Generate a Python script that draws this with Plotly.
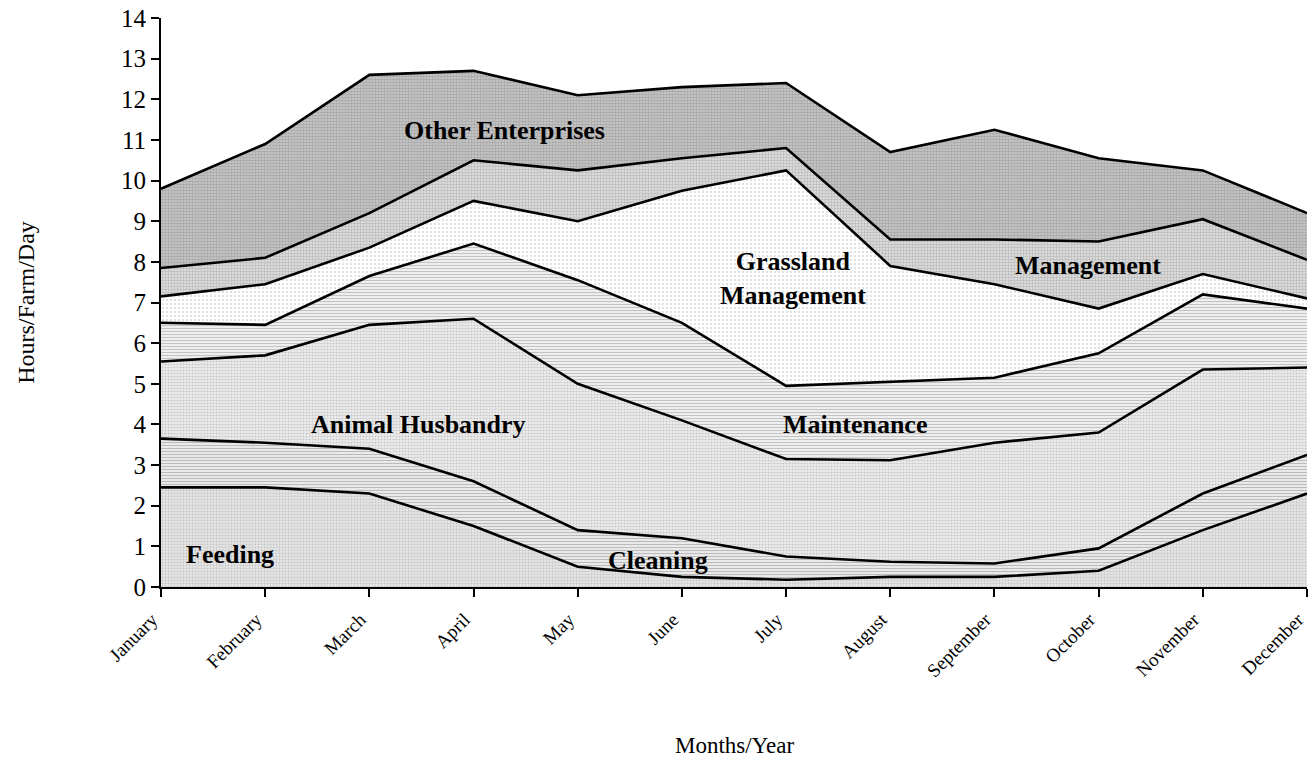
import plotly.graph_objects as go

months = ["January", "February", "March", "April", "May", "June", "July",
          "August", "September", "October", "November", "December"]

feeding = [2.45, 2.45, 2.30, 1.50, 0.50, 0.25, 0.18, 0.25, 0.25, 0.40, 1.40, 2.30]
cleaning = [1.20, 1.10, 1.10, 1.10, 0.90, 0.95, 0.57, 0.37, 0.33, 0.55, 0.90, 0.95]
animal_husbandry = [1.90, 2.15, 3.05, 4.00, 3.60, 2.90, 2.40, 2.50, 2.97, 2.85, 3.05, 2.15]
maintenance = [0.95, 0.75, 1.20, 1.85, 2.55, 2.40, 1.80, 1.93, 1.60, 1.95, 1.85, 1.45]
grassland_management = [0.65, 1.00, 0.70, 1.05, 1.45, 3.25, 5.30, 2.85, 2.30, 1.10, 0.50, 0.25]
management = [0.70, 0.65, 0.85, 1.00, 1.25, 0.80, 0.55, 0.65, 1.10, 1.65, 1.35, 0.95]
other_enterprises = [1.95, 2.80, 3.40, 2.20, 1.85, 1.75, 1.60, 2.15, 2.70, 2.05, 1.20, 1.15]

series = [
    ("Feeding", feeding, dict(shape=".", size=3, solidity=0.45, fgcolor="#a8a8a8", bgcolor="#eaeaea")),
    ("Cleaning", cleaning, dict(shape="-", size=3, solidity=0.4, fgcolor="#888888", bgcolor="#eeeeee")),
    ("Animal Husbandry", animal_husbandry, dict(shape=".", size=3, solidity=0.4, fgcolor="#a0a0a0", bgcolor="#eeeeee")),
    ("Maintenance", maintenance, dict(shape="-", size=3, solidity=0.38, fgcolor="#939393", bgcolor="#f2f2f2")),
    ("Grassland Management", grassland_management, dict(shape=".", size=4, solidity=0.2, fgcolor="#b0b0b0", bgcolor="#ffffff")),
    ("Management", management, dict(shape=".", size=3, solidity=0.5, fgcolor="#939393", bgcolor="#e2e2e2")),
    ("Other Enterprises", other_enterprises, dict(shape=".", size=3, solidity=0.6, fgcolor="#848484", bgcolor="#cdcdcd")),
]

labels = [
    ("Other Enterprises", 3.3, 11.23),
    ("Grassland<br>Management", 6.07, 7.6),
    ("Management", 8.9, 7.9),
    ("Animal Husbandry", 2.47, 3.99),
    ("Maintenance", 6.66, 4.01),
    ("Feeding", 0.66, 0.79),
    ("Cleaning", 4.77, 0.66),
]

x_title = "Months/Year"
y_title = "Hours/Farm/Day"

serif = "Liberation Serif, Times New Roman, serif"

fig = go.Figure()
for name, vals, pat in series:
    fig.add_trace(go.Scatter(
        x=months, y=vals, name=name, mode="lines", stackgroup="one",
        line=dict(color="black", width=2.6),
        fillcolor=pat["bgcolor"], fillpattern=pat,
        hoverinfo="x+y+name",
    ))

for text, x, y in labels:
    fig.add_annotation(x=x, y=y, xref="x", yref="y", text="<b>%s</b>" % text,
                       showarrow=False, font=dict(family=serif, size=26, color="black"))

# x-axis title placed below the rotated month labels
fig.add_annotation(x=0.5, y=-0.278, xref="paper", yref="paper", text=x_title,
                   showarrow=False, xanchor="center", yanchor="middle",
                   font=dict(family=serif, size=23, color="black"))

fig.update_layout(
    width=1309, height=764,
    margin=dict(l=161, r=2, t=18, b=177),
    paper_bgcolor="white", plot_bgcolor="white",
    showlegend=False,
    font=dict(family=serif, color="black"),
    xaxis=dict(
        type="category", categoryorder="array", categoryarray=months,
        range=[0, 11], showgrid=False, zeroline=False, automargin=False,
        showline=True, linecolor="black", linewidth=2,
        ticks="outside", ticklen=8, tickwidth=2, tickcolor="black",
        tickangle=-45, tickfont=dict(family=serif, size=19),
        ticklabelshift=-9, ticklabelstandoff=4,
    ),
    yaxis=dict(
        range=[0, 14], tickvals=list(range(15)), showgrid=False, zeroline=False,
        automargin=False,
        showline=True, linecolor="black", linewidth=2,
        ticks="outside", ticklen=8, tickwidth=2, tickcolor="black",
        tickfont=dict(family=serif, size=25),
        title=dict(text=y_title, font=dict(family=serif, size=24), standoff=80),
    ),
    yaxis2=dict(
        overlaying="y", range=[0, 14], tickvals=list(range(1, 14)), automargin=False,
        showgrid=True, gridcolor="#222222", gridwidth=1, griddash="10px,6px",
        showticklabels=False, ticks="", showline=False, zeroline=False,
    ),
)

fig.write_html(
    "out.html",
    config={"displayModeBar": False},
    post_script="document.body.style.margin='0';document.body.style.overflow='hidden';",
)
